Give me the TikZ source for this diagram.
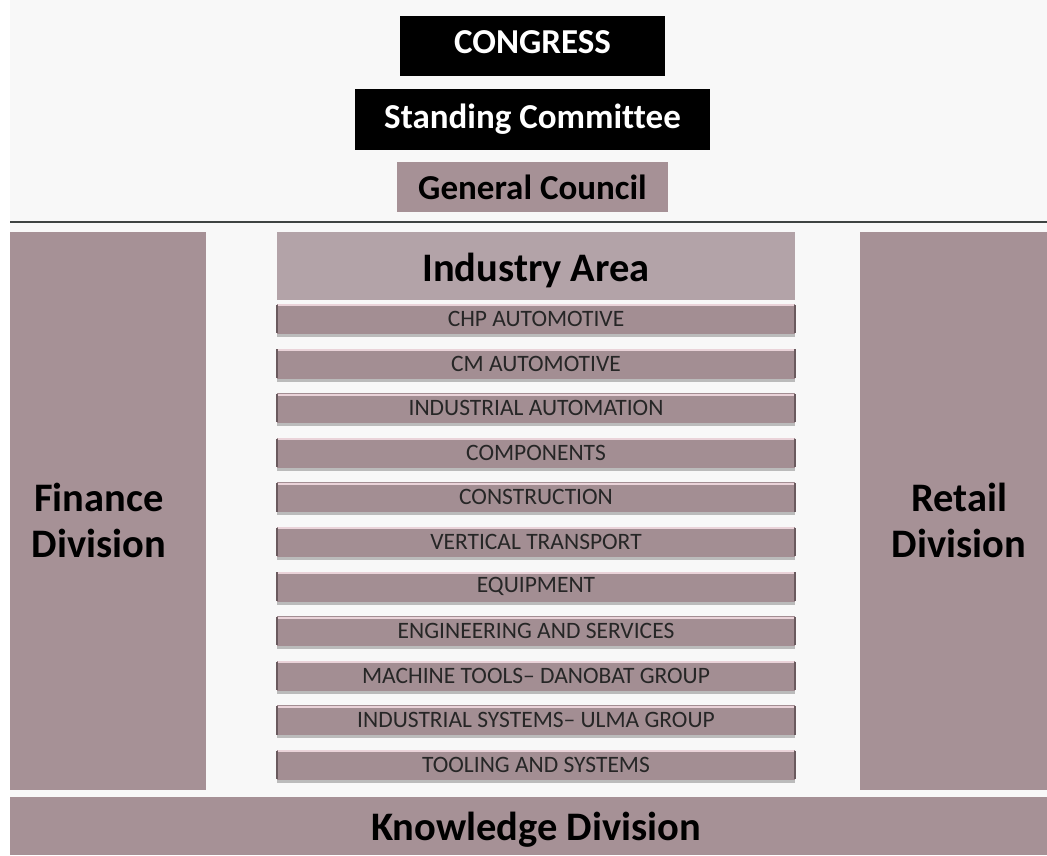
\documentclass[tikz,border=0pt]{standalone}
\usepackage{fontspec}
\setmainfont[Ligatures={TeX,NoCommon}]{Carlito}
\usetikzlibrary{shadows}

\definecolor{pagebg}{HTML}{F8F8F8}
\definecolor{mauve}{HTML}{A69196}
\definecolor{mauvelight}{HTML}{B3A3A8}
\definecolor{rowfill}{HTML}{A38E93}
\definecolor{rowhi}{HTML}{EAD3D9}
\definecolor{rowedge}{HTML}{6A5A5E}
\definecolor{rule}{HTML}{3E4442}

\tikzset{
  blackbox/.style={fill=black, inner sep=0pt, anchor=center},
  whitetext/.style={text=white, font=\bfseries\fontsize{35}{40}\selectfont},
  mauvebox/.style={fill=mauve, inner sep=0pt, anchor=center},
  bigtext/.style={font=\bfseries\fontsize{40.5}{46}\selectfont, align=center, text=black},
  rowbox/.style={fill=rowfill, inner sep=0pt, minimum width=518pt, minimum height=30pt,
    text=black!85, font=\fontsize{23.5}{28}\selectfont,
    drop shadow={shadow xshift=0pt, shadow yshift=-3pt, opacity=0.35, fill=black!70}},
  rowtop/.style={draw=rowhi, line width=2pt},
  rowside/.style={draw=rowedge, line width=1.6pt},
}

\begin{document}
\begin{tikzpicture}[x=1pt, y=-1pt]
  % page
  \fill[pagebg] (0,0) rectangle (1047,855);
  \fill[white] (0,0) rectangle (10,855);
  \useasboundingbox (0,0) rectangle (1047,855);

  % governing bodies
  \node[blackbox, minimum width=265pt, minimum height=60pt] (congress) at (532.5,46) {};
  \node[whitetext] (congresstext) at (532.5,42.5) {CONGRESS};
  \node[blackbox, minimum width=355pt, minimum height=61pt] (standing) at (532.5,119.5) {};
  \node[whitetext] (standingtext) at (532.5,119) {Standing Committee};
  \node[mauvebox, minimum width=271pt, minimum height=50pt,
        font=\bfseries\fontsize{35}{40}\selectfont] (council) at (532.5,187) {General Council};

  % separating rule
  \coordinate (ruleL) at (10,222);
  \coordinate (ruleR) at (1047,222);
  \draw[rule, line width=2.2pt] (ruleL) -- (ruleR);

  % side divisions
  \node[mauvebox, minimum width=196pt, minimum height=558pt] (finance) at (108,511) {};
  \node[bigtext] (financetext) at (99,520) {Finance\\Division};
  \node[mauvebox, minimum width=187pt, minimum height=558pt] (retail) at (953.5,511) {};
  \node[bigtext] (retailtext) at (959,520) {Retail\\Division};

  % industry area
  \node[fill=mauvelight, inner sep=0pt, minimum width=518pt, minimum height=68pt] (industry) at (536,266) {};
  \node[bigtext] (industrytext) at (536,270) {Industry Area};

  \foreach \i/\txt in {0/CHP AUTOMOTIVE, 1/CM AUTOMOTIVE, 2/INDUSTRIAL AUTOMATION,
      3/COMPONENTS, 4/CONSTRUCTION, 5/VERTICAL TRANSPORT, 6/EQUIPMENT,
      7/ENGINEERING AND SERVICES, 8/MACHINE TOOLS-- DANOBAT GROUP,
      9/INDUSTRIAL SYSTEMS-- ULMA GROUP, 10/TOOLING AND SYSTEMS} {
    \node[rowbox] (row\i) at (536,{319+44.6*\i}) {\txt};
    \draw[rowside] ([yshift=-1pt]row\i.north west) -- ([yshift=1pt]row\i.south west);
    \draw[rowside] ([yshift=-1pt]row\i.north east) -- ([yshift=1pt]row\i.south east);
    \draw[rowtop] ([xshift=1pt,yshift=-1.5pt]row\i.north west) -- ([xshift=-1pt,yshift=-1.5pt]row\i.north east);
  }

  % knowledge division
  \node[mauvebox, minimum width=1037pt, minimum height=58pt] (knowledge) at (528.5,826) {};
  \node[bigtext] (knowledgetext) at (536,830) {Knowledge Division};
\end{tikzpicture}
\end{document}
